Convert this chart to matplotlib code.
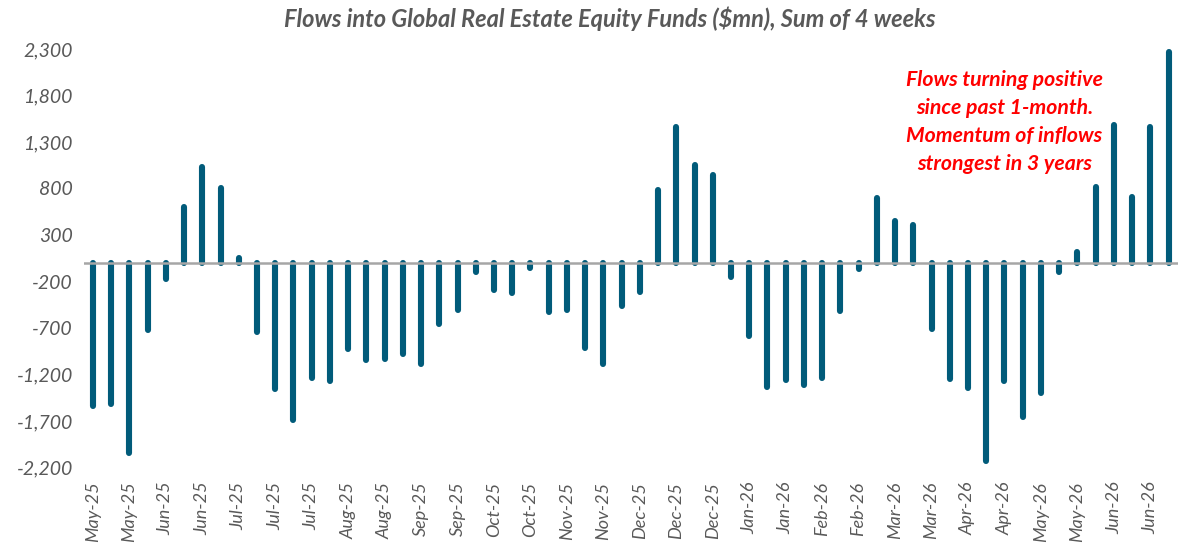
import numpy as np
import matplotlib.pyplot as plt

# tick labels, one for every other bar
months = [
    'May-25', 'May-25', 'Jun-25', 'Jun-25', 'Jul-25', 'Jul-25', 'Jul-25',
    'Aug-25', 'Aug-25', 'Sep-25', 'Sep-25', 'Oct-25', 'Oct-25', 'Nov-25',
    'Nov-25', 'Dec-25', 'Dec-25', 'Dec-25', 'Jan-26', 'Jan-26', 'Feb-26',
    'Feb-26', 'Mar-26', 'Mar-26', 'Apr-26', 'Apr-26', 'May-26', 'May-26',
    'Jun-26', 'Jun-26',
]

# 4-week sum of flows ($mn), weekly
flows = [
    -1536, -1514, -2039, -718, -171, 596, 1036, 800, 54, -743,
    -1350, -1689, -1239, -1268, -921, -1043, -1032, -975, -1089, -653,
    -504, -93, -289, -318, -54, -529, -504, -918, -1082, -461,
    -314, 786, 1464, 1050, 946, -146, -789, -1332, -1253, -1311,
    -1232, -511, -68, 703, 446, 407, -711, -1246, -1346, -2132,
    -1271, -1653, -1393, -93, 114, 811, 1482, 711, 1457, 2264,
]

yticks = [2300, 1800, 1300, 800, 300, -200, -700, -1200, -1700, -2200]

bar_color = '#015B7A'
text_gray = '#595959'
font = 'Lato'

fig = plt.figure(figsize=(11.8, 5.49), dpi=100)
ax = fig.add_axes([0.071, 0.148, 0.927, 0.763])

x = np.arange(len(flows))
ax.vlines(x, 0, flows, colors=bar_color, linewidth=4.4, capstyle='round', zorder=2)
ax.axhline(0, color='#A6A6A6', linewidth=1.8, zorder=3)

ax.set_xlim(-0.5, len(flows) - 0.5)
ax.set_ylim(-2200, 2300)
ax.set_yticks(yticks)
ax.set_yticklabels(['{:,}'.format(v) for v in yticks], fontsize=14, style='italic',
                   color=text_gray, family=font)
ax.set_xticks(x[::2])
ax.set_xticklabels(months, rotation=90, fontsize=13, style='italic',
                   color=text_gray, family=font)
ax.tick_params(axis='both', length=0)
ax.tick_params(axis='y', pad=8)
ax.tick_params(axis='x', pad=10)
for s in ax.spines.values():
    s.set_visible(False)

fig.text(0.517, 0.966, 'Flows into Global Real Estate Equity Funds ($mn), Sum of 4 weeks',
         ha='center', va='center', fontsize=17, fontweight='bold', style='italic',
         color=text_gray, family=font)

ax.text(50.0, 1515, 'Flows turning positive\nsince past 1-month.\nMomentum of inflows\nstrongest in 3 years',
        ha='center', va='center', fontsize=15.3, fontweight='bold', style='italic',
        color='#FF0000', family=font, linespacing=1.5)

plt.savefig('out.png', dpi=100)
